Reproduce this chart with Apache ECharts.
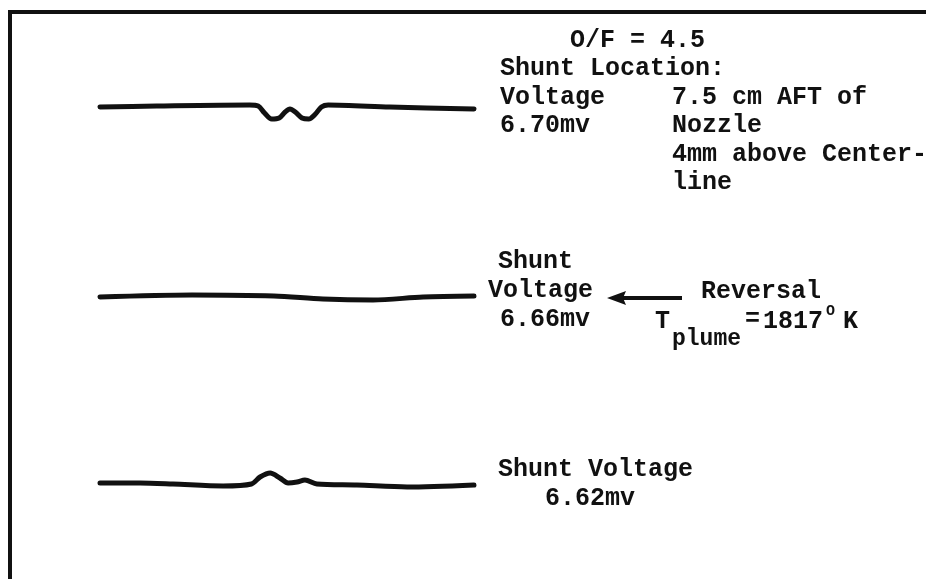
<!DOCTYPE html>
<html>
<head>
<meta charset="utf-8">
<script src="https://cdn.jsdelivr.net/npm/echarts@6/dist/echarts.min.js"></script>
<style>
  * { margin: 0; padding: 0; }
  body { background: #fff; }
  #main { width: 926px; height: 579px; }
</style>
</head>
<body>
<div id="main"></div>
<script>
// trace samples: time (0-100 across the sweep) and deflection (up = positive)
var trace1T = [0, 15.2, 40, 42.3, 44, 45.9, 47.9, 49.5, 50.8, 52.2, 54, 55.8, 57.6, 59.2, 61, 77.5, 100];
var trace1D = [3, 4, 5, 4, -3, -9, -8, -2, 1, -2, -8, -9, -4, 3, 5, 3, 1];

var trace2T = [0, 24.6, 46.5, 59.6, 73, 86.4, 100];
var trace2D = [0, 2, 1, -2, -3, 0, 1];

var trace3T = [0, 10.7, 19.5, 32.9, 40.5, 42.8, 45.5, 48.1, 50.3, 52.7, 54.8, 58, 68.7, 82.1, 100];
var trace3D = [3, 3, 2, 0, 2, 9, 13, 8, 3, 4, 6, 2, 1, -1, 1];

// annotation text
var topLines = ['O/F = 4.5', 'Shunt Location:', 'Voltage', '6.70mv'];
var locLines = ['7.5 cm AFT of', 'Nozzle', '4mm above Center-', 'line'];
var midLines = ['Shunt', 'Voltage', '6.66mv'];
var reversalText = 'Reversal';
var plumeParts = ['T', 'plume', '=', '1817', 'O', 'K'];
var botLines = ['Shunt Voltage', '6.62mv'];

function pairs(t, d) {
  return t.map(function (v, i) { return [v, d[i]]; });
}

var chart = echarts.init(document.getElementById('main'));
var font = '"Liberation Mono", "DejaVu Sans Mono", monospace';
var ink = '#111';

function txt(s, x, y, size) {
  return {
    type: 'text', x: x, y: y,
    style: { text: s, fill: ink, font: 'bold ' + (size || 25) + 'px ' + font, textVerticalAlign: 'middle' }
  };
}

var grids = [
  { left: 100, width: 374, top: 90, height: 40 },
  { left: 100, width: 374, top: 277, height: 40 },
  { left: 100, width: 374, top: 466, height: 40 }
];
var xAxes = [], yAxes = [], series = [];
var traces = [pairs(trace1T, trace1D), pairs(trace2T, trace2D), pairs(trace3T, trace3D)];
traces.forEach(function (d, i) {
  xAxes.push({ type: 'value', gridIndex: i, min: 0, max: 100, show: false });
  yAxes.push({ type: 'value', gridIndex: i, min: -20, max: 20, show: false });
  series.push({
    type: 'line', xAxisIndex: i, yAxisIndex: i, data: d,
    smooth: 0.3, symbol: 'none',
    lineStyle: { color: ink, width: 5, cap: 'round', join: 'round' }
  });
});

var graphics = [
  // frame (top and left edges only)
  { type: 'polyline', shape: { points: [[10, 579], [10, 12], [926, 12]] }, style: { stroke: ink, lineWidth: 4, fill: null } },
  txt(topLines[0], 570, 41),
  txt(topLines[1], 500, 69),
  txt(topLines[2], 500, 98),
  txt(topLines[3], 500, 126),
  txt(locLines[0], 672, 98),
  txt(locLines[1], 672, 126),
  txt(locLines[2], 672, 155),
  txt(locLines[3], 672, 183),
  txt(midLines[0], 498, 262),
  txt(midLines[1], 488, 291),
  txt(midLines[2], 500, 320),
  txt(reversalText, 701, 292),
  txt(plumeParts[0], 655, 322),
  txt(plumeParts[1], 672, 339, 23),
  txt(plumeParts[2], 745, 320),
  txt(plumeParts[3], 763, 322),
  txt(plumeParts[4], 826, 311, 15),
  txt(plumeParts[5], 843, 322),
  txt(botLines[0], 498, 470),
  txt(botLines[1], 545, 499),
  // arrow pointing at the middle trace label
  { type: 'line', shape: { x1: 622, y1: 298, x2: 682, y2: 298 }, style: { stroke: ink, lineWidth: 4 } },
  { type: 'polygon', shape: { points: [[607, 298], [626, 291], [623, 298], [626, 305]] }, style: { fill: ink } }
];

chart.setOption({
  backgroundColor: '#fff',
  animation: false,
  grid: grids,
  xAxis: xAxes,
  yAxis: yAxes,
  series: series,
  graphic: graphics
});
</script>
</body>
</html>
